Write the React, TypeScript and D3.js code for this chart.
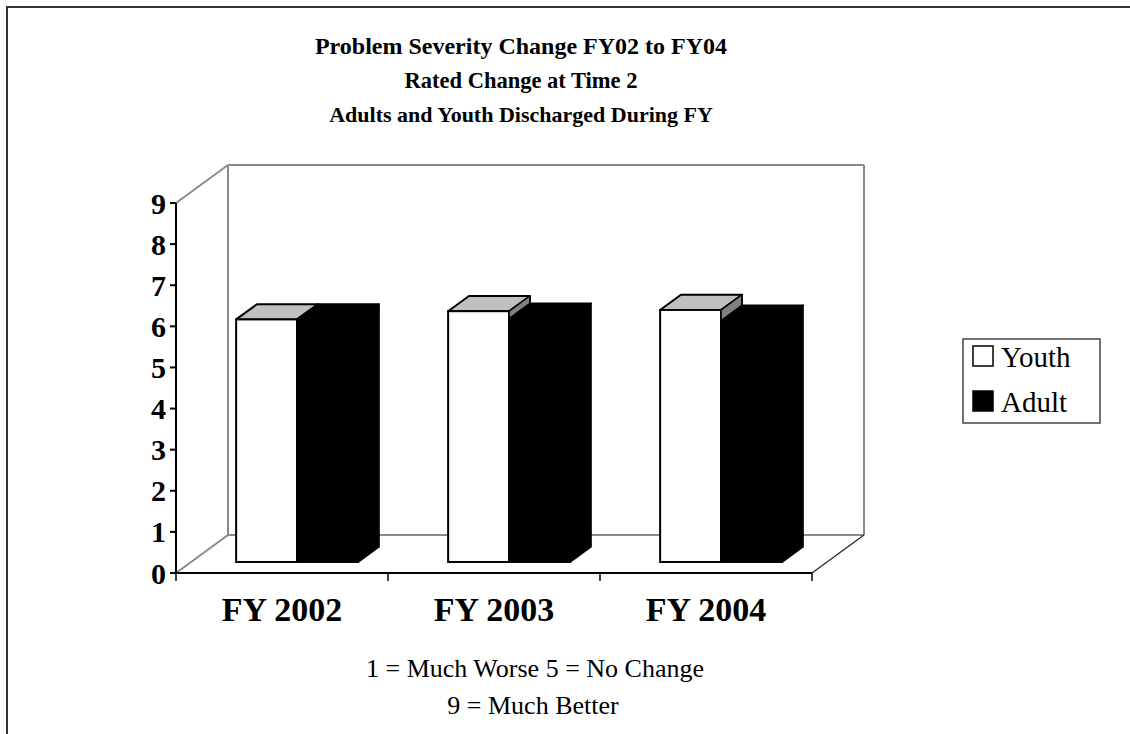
import React from "react";
import * as d3 from "d3";

const categories = ["FY 2002", "FY 2003", "FY 2004"];
const seriesNames = ["Youth", "Adult"];
const youthValues = [5.9, 6.1, 6.13];
const adultValues = [5.9, 5.92, 5.87];
const yTickValues = [0, 1, 2, 3, 4, 5, 6, 7, 8, 9];
const titleLines = ["Problem Severity Change FY02 to FY04", "Rated Change at Time 2", "Adults and Youth Discharged During FY"];
const footerLines = ["1 = Much Worse 5 = No Change", "9 = Much Better"];

const FONT = "'Liberation Serif', 'Times New Roman', Times, serif";

export default function App() {
  const W = 1130, H = 734;
  const plotLeft = 176, plotRight = 812, yBottom = 573, yTopPx = 203;
  const depth = { dx: 52, dy: 38 };
  const barFront = 0.29, barBack = 0.69;

  const y = d3.scaleLinear().domain([0, 9]).range([yBottom, yTopPx]);
  const x0 = d3.scaleBand<string>().domain(categories).range([plotLeft, plotRight]).paddingInner(0).paddingOuter(0);
  const groupWidth = x0.bandwidth() * 0.575;
  const x1 = d3.scaleBand<string>().domain(seriesNames).range([0, groupWidth]);
  const bw = x1.bandwidth();

  const fdx = depth.dx * barFront, fdy = depth.dy * barFront;
  const bdx = depth.dx * (barBack - barFront), bdy = depth.dy * (barBack - barFront);

  const pts = (arr: number[][]) => arr.map((p) => p.join(",")).join(" ");

  const bar = (cat: string, s: string, v: number, fill: string, top: string, side: string, key: string) => {
    const xl = (x0(cat) as number) + (x0.bandwidth() - groupWidth) / 2 + (x1(s) as number) + fdx;
    const xr = xl + bw;
    const yb = y(0) - fdy;
    const yt = y(v) - fdy;
    return (
      <g key={key}>
        <polygon points={pts([[xr, yb], [xr + bdx, yb - bdy], [xr + bdx, yt - bdy], [xr, yt]])} fill={side} stroke="#000" strokeWidth={2} strokeLinejoin="round" />
        <polygon points={pts([[xl, yt], [xr, yt], [xr + bdx, yt - bdy], [xl + bdx, yt - bdy]])} fill={top} stroke="#000" strokeWidth={2} strokeLinejoin="round" />
        <rect x={xl} y={yt} width={bw} height={yb - yt} fill={fill} stroke="#000" strokeWidth={2} />
      </g>
    );
  };

  const partialSide = (cat: string, vy: number, va: number, key: string) => {
    if (vy <= va) return null;
    const xl = (x0(cat) as number) + (x0.bandwidth() - groupWidth) / 2 + (x1("Youth") as number) + fdx;
    const xr = xl + bw;
    const ya = y(va) - fdy;
    const yt = y(vy) - fdy;
    return (
      <polygon key={key} points={pts([[xr, ya], [xr, yt], [xr + bdx, yt - bdy], [xr + bdx, ya - bdy]])} fill="#808080" stroke="#000" strokeWidth={1.5} strokeLinejoin="round" />
    );
  };

  const wallColor = "#8a8a8a";
  const bx = plotLeft + depth.dx, by = yBottom - depth.dy, bTop = yTopPx - depth.dy, bRight = plotRight + depth.dx;

  return (
    <svg width={W} height={H} style={{ position: "absolute", left: 0, top: 0, background: "#fff" }} fontFamily={FONT}>
      <rect x={0} y={0} width={W} height={H} fill="#fff" />
      <rect x={7} y={7} width={1300} height={900} fill="none" stroke="#333" strokeWidth={2} />

      {/* titles */}
      <text x={521} y={54} textAnchor="middle" fontSize={24} fontWeight="bold">{titleLines[0]}</text>
      <text x={521} y={88} textAnchor="middle" fontSize={22.5} fontWeight="bold">{titleLines[1]}</text>
      <text x={521} y={122} textAnchor="middle" fontSize={22} fontWeight="bold">{titleLines[2]}</text>

      {/* walls */}
      <g stroke={wallColor} strokeWidth={2} fill="none">
        <line x1={plotLeft} y1={yTopPx} x2={bx} y2={bTop} />
        <line x1={bx} y1={bTop} x2={bRight} y2={bTop} />
        <line x1={bx} y1={bTop} x2={bx} y2={by} />
        <line x1={bRight} y1={bTop} x2={bRight} y2={by} />
        <line x1={bx} y1={by} x2={bRight} y2={by} />
        <line x1={plotLeft} y1={yBottom} x2={bx} y2={by} />
      </g>
      <line x1={plotRight} y1={yBottom} x2={bRight} y2={by} stroke="#222" strokeWidth={1.2} />

      {/* bars */}
      {categories.map((c, i) => (
        <g key={c}>
          {bar(c, "Youth", youthValues[i], "#fff", "#c0c0c0", "#808080", "y" + i)}
          {bar(c, "Adult", adultValues[i], "#000", "#000", "#000", "a" + i)}
          {partialSide(c, youthValues[i], adultValues[i], "p" + i)}
        </g>
      ))}

      {/* axes */}
      <line x1={plotLeft} y1={yTopPx} x2={plotLeft} y2={yBottom} stroke="#000" strokeWidth={2} />
      <line x1={plotLeft} y1={yBottom} x2={plotRight} y2={yBottom} stroke="#000" strokeWidth={2} />
      {yTickValues.map((t) => (
        <g key={t}>
          <line x1={plotLeft - 6} x2={plotLeft} y1={y(t)} y2={y(t)} stroke="#000" strokeWidth={2} />
          <text x={plotLeft - 10} y={y(t) + 10.5} textAnchor="end" fontSize={30} fontWeight="bold">{t}</text>
        </g>
      ))}
      {[...categories.map((c) => x0(c) as number), plotRight].map((xv, i) => (
        <line key={i} x1={xv} x2={xv} y1={yBottom} y2={yBottom + 8} stroke="#000" strokeWidth={1.5} />
      ))}
      {categories.map((c) => (
        <text key={c} x={(x0(c) as number) + x0.bandwidth() / 2} y={621} textAnchor="middle" fontSize={34} fontWeight="bold">{c}</text>
      ))}

      {/* footer */}
      <text x={535} y={677} textAnchor="middle" fontSize={26}>{footerLines[0]}</text>
      <text x={533} y={714} textAnchor="middle" fontSize={26}>{footerLines[1]}</text>

      {/* legend */}
      <rect x={963} y={339} width={137} height={84} fill="#fff" stroke="#444" strokeWidth={1.5} />
      {seriesNames.map((s, i) => (
        <g key={s}>
          <rect x={973} y={346 + i * 45} width={20} height={20} fill={s === "Youth" ? "#fff" : "#000"} stroke="#000" strokeWidth={1.5} />
          <text x={1001} y={367 + i * 45} fontSize={29}>{s}</text>
        </g>
      ))}
    </svg>
  );
}
